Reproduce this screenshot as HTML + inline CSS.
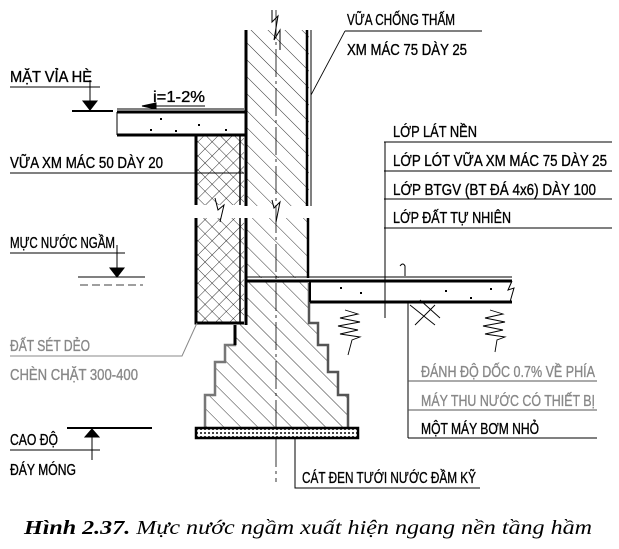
<!DOCTYPE html>
<html><head><meta charset="utf-8"><style>
html,body{margin:0;padding:0;background:#fff;width:619px;height:549px;overflow:hidden}
svg{display:block}
.t{font-family:"Liberation Sans Narrow","Liberation Sans",sans-serif;font-size:16px;fill:#000;stroke:#000;stroke-width:0.35}
.g{fill:#888;stroke:#888}
.cap{font-family:"Liberation Serif",serif;font-size:20px;font-style:italic;fill:#000}
</style></head><body>
<svg width="619" height="549" viewBox="0 0 619 549" xmlns="http://www.w3.org/2000/svg">
<defs>
<pattern id="diag" width="12" height="12" patternUnits="userSpaceOnUse" patternTransform="rotate(-45)">
<line x1="0" y1="0" x2="0" y2="12" stroke="#000" stroke-width="0.8"/></pattern>
<pattern id="cross" width="10" height="10" patternUnits="userSpaceOnUse" patternTransform="rotate(45)">
<line x1="0" y1="0" x2="0" y2="10" stroke="#000" stroke-width="0.8"/><line x1="0" y1="0" x2="10" y2="0" stroke="#000" stroke-width="0.8"/></pattern>
<pattern id="sand" width="4" height="4" patternUnits="userSpaceOnUse">
<rect width="2" height="2" fill="#444"/></pattern>
</defs>
<g fill="none" stroke="#000">
<rect x="246" y="30" width="63" height="176" fill="url(#diag)" stroke="none"/>
<line x1="246" y1="30" x2="246" y2="206" stroke-width="3"/>
<line x1="307" y1="30" x2="307" y2="206" stroke-width="2.5"/>
<line x1="311" y1="30" x2="311" y2="206" stroke-width="1"/>
<rect x="246" y="218" width="63" height="60" fill="url(#diag)" stroke="none"/>
<line x1="246" y1="218" x2="246" y2="325" stroke-width="3"/>
<line x1="308" y1="218" x2="308" y2="278" stroke-width="2.5"/>
<line x1="246" y1="277" x2="310" y2="277" stroke-width="1"/>
<polyline points="272,10 272,22 278,16 274,40 280,30 280,50" stroke-width="1"/>
<polyline points="272,200 274,208 280,202 276,222" stroke-width="1"/>
<polyline points="215,198 218,210 224,205 220,222" stroke-width="1"/>
<rect x="196" y="135" width="48" height="70" fill="url(#cross)" stroke="none"/>
<rect x="196" y="218" width="48" height="105" fill="url(#cross)" stroke="none"/>
<polyline points="196,205 196,135 244,135" stroke-width="3"/>
<polyline points="196,218 196,323 244,323" stroke-width="3"/>
<line x1="240" y1="135" x2="240" y2="205" stroke-width="1.5"/>
<line x1="240" y1="218" x2="240" y2="323" stroke-width="1.5"/>
<polyline points="117,112 246,112" stroke-width="3"/>
<polyline points="117,135 246,135" stroke-width="3"/>
<line x1="117" y1="112" x2="117" y2="135" stroke-width="1"/>
<line x1="117" y1="109" x2="244" y2="109" stroke-width="1"/>
<g fill="#000" stroke="none"><rect x="160" y="118" width="2" height="2"/><rect x="198" y="124" width="2" height="2"/><rect x="150" y="129" width="2" height="2"/><rect x="175" y="130" width="2" height="2"/><rect x="225" y="129" width="2" height="2"/>
<rect x="340" y="287" width="2" height="2"/><rect x="360" y="292" width="2" height="2"/><rect x="445" y="290" width="2" height="2"/><rect x="470" y="297" width="2" height="2"/><rect x="490" y="288" width="2" height="2"/></g>
<line x1="145" y1="106" x2="205" y2="106" stroke-width="1"/>
<polygon points="142,106 156,103 156,109" fill="#000"/>
<polygon points="246,281 309,281 309,323 318,323 318,345 328,345 328,372 338,372 338,395 348,395 348,428 205,428 205,395 215,395 215,362 225,362 225,345 235,345 235,323 246,323" fill="url(#diag)" stroke="none"/>
<polyline points="235,325 235,345 225,345 225,362 215,362 215,395 205,395 205,428" stroke="#777" stroke-width="2.5"/>
<polyline points="309,283 309,323 318,323 318,345 328,345 328,372 338,372 338,395 348,395 348,428" stroke="#555" stroke-width="2.5"/>
<polyline points="235,325 235,345" stroke="#000" stroke-width="3"/>
<rect x="196" y="428" width="162" height="10" fill="url(#sand)" stroke-width="2.5"/>
<line x1="310" y1="277" x2="512" y2="277" stroke-width="1"/>
<line x1="246" y1="281" x2="512" y2="281" stroke-width="3"/>
<line x1="310" y1="302" x2="512" y2="302" stroke-width="3"/>
<line x1="310" y1="281" x2="310" y2="302" stroke-width="2"/>
<polyline points="512,281 508,290 514,288 510,302" stroke-width="1"/>
<line x1="276" y1="10" x2="276" y2="482" stroke-width="0.8" stroke-dasharray="28,4,3,4"/>
<polyline points="345,310 358,314 340,318 360,322 338,326 358,330 340,334 360,337 352,340 348,355" stroke-width="0.9"/>
<polyline points="490,310 503,314 485,318 505,322 483,326 503,330 485,334 505,337 497,340 495,352" stroke-width="0.9"/>
<path d="M410,305 L435,325 M415,325 L435,305 M420,300 L440,318" stroke-width="0.9"/>
<path d="M405,276 L405,266 Q403,262 400,266" stroke-width="1"/>
<line x1="385" y1="142" x2="385" y2="318" stroke-width="1"/>
<line x1="384" y1="142" x2="612" y2="142" stroke-width="1"/>
<line x1="384" y1="171" x2="612" y2="171" stroke-width="1"/>
<line x1="384" y1="199" x2="612" y2="199" stroke-width="1"/>
<line x1="384" y1="228" x2="612" y2="228" stroke-width="1"/>
<line x1="408" y1="303" x2="408" y2="438" stroke-width="1"/>
<line x1="408" y1="381" x2="597" y2="381" stroke-width="1" stroke="#555"/>
<line x1="408" y1="410" x2="597" y2="410" stroke-width="1" stroke="#555"/>
<line x1="408" y1="438" x2="597" y2="438" stroke-width="1"/>
<polyline points="345,31 482,31" stroke-width="1"/>
<line x1="345" y1="31" x2="311" y2="95" stroke-width="0.8"/>
<polyline points="295,438 295,488 480,488" stroke-width="1"/>
<line x1="10" y1="87" x2="100" y2="87" stroke-width="1"/>
<line x1="90" y1="80" x2="90" y2="111" stroke-width="1"/>
<polygon points="83,101 97,101 90,110" fill="#000"/>
<line x1="72" y1="111" x2="113" y2="111" stroke-width="2"/>
<line x1="10" y1="173" x2="244" y2="173" stroke-width="1"/>
<line x1="10" y1="253" x2="125" y2="253" stroke-width="1"/>
<line x1="117" y1="245" x2="117" y2="277" stroke-width="1"/>
<polygon points="110,268 124,268 117,277" fill="#000"/>
<line x1="78" y1="277" x2="145" y2="277" stroke-width="1"/>
<line x1="80" y1="285" x2="143" y2="285" stroke-width="0.8" stroke-dasharray="8,4"/>
<polyline points="10,356 182,356 197,323" stroke="#888" stroke-width="1"/>
<line x1="10" y1="450" x2="100" y2="450" stroke-width="1"/>
<line x1="67" y1="428" x2="152" y2="428" stroke-width="2"/>
<line x1="92" y1="428" x2="92" y2="460" stroke-width="1"/>
<polygon points="92,429 85,437 99,437" fill="#000"/>
</g>
<text class="t" x="10" y="82" textLength="82" lengthAdjust="spacingAndGlyphs">MẶT VỈA HÈ</text>
<text class="t" x="153" y="102" textLength="52" lengthAdjust="spacingAndGlyphs">i=1-2%</text>
<text class="t" x="10" y="168" textLength="153" lengthAdjust="spacingAndGlyphs">VỮA XM MÁC 50 DÀY 20</text>
<text class="t" x="10" y="248" textLength="105" lengthAdjust="spacingAndGlyphs">MỰC NƯỚC NGẦM</text>
<text class="t g" x="10" y="351" textLength="80" lengthAdjust="spacingAndGlyphs">ĐẤT SÉT DẺO</text>
<text class="t g" x="10" y="380" textLength="128" lengthAdjust="spacingAndGlyphs">CHÈN CHẶT 300-400</text>
<text class="t" x="10" y="445" textLength="48" lengthAdjust="spacingAndGlyphs">CAO ĐỘ</text>
<text class="t" x="10" y="475" textLength="66" lengthAdjust="spacingAndGlyphs">ĐÁY MÓNG</text>
<text class="t" x="347" y="25" textLength="108" lengthAdjust="spacingAndGlyphs">VỮA CHỐNG THẤM</text>
<text class="t" x="347" y="55" textLength="120" lengthAdjust="spacingAndGlyphs">XM MÁC 75 DÀY 25</text>
<text class="t" x="393" y="137" textLength="84" lengthAdjust="spacingAndGlyphs">LỚP LÁT NỀN</text>
<text class="t" x="393" y="166" textLength="214" lengthAdjust="spacingAndGlyphs">LỚP LÓT VỮA XM MÁC 75 DÀY 25</text>
<text class="t" x="393" y="195" textLength="203" lengthAdjust="spacingAndGlyphs">LỚP BTGV (BT ĐÁ 4x6) DÀY 100</text>
<text class="t" x="393" y="223" textLength="118" lengthAdjust="spacingAndGlyphs">LỚP ĐẤT TỰ NHIÊN</text>
<text class="t g" x="421" y="377" textLength="174" lengthAdjust="spacingAndGlyphs">ĐÁNH ĐỘ DỐC 0.7% VỀ PHÍA</text>
<text class="t g" x="421" y="406" textLength="174" lengthAdjust="spacingAndGlyphs">MÁY THU NƯỚC CÓ THIẾT BỊ</text>
<text class="t" x="421" y="434" textLength="118" lengthAdjust="spacingAndGlyphs">MỘT MÁY BƠM NHỎ</text>
<text class="t" x="302" y="483" textLength="174" lengthAdjust="spacingAndGlyphs">CÁT ĐEN TƯỚI NƯỚC ĐẦM KỸ</text>
<text class="cap" x="24" y="534" textLength="568" lengthAdjust="spacingAndGlyphs"><tspan font-weight="bold">Hình 2.37.</tspan> Mực nước ngầm xuất hiện ngang nền tầng hầm</text>
</svg>
</body></html>
